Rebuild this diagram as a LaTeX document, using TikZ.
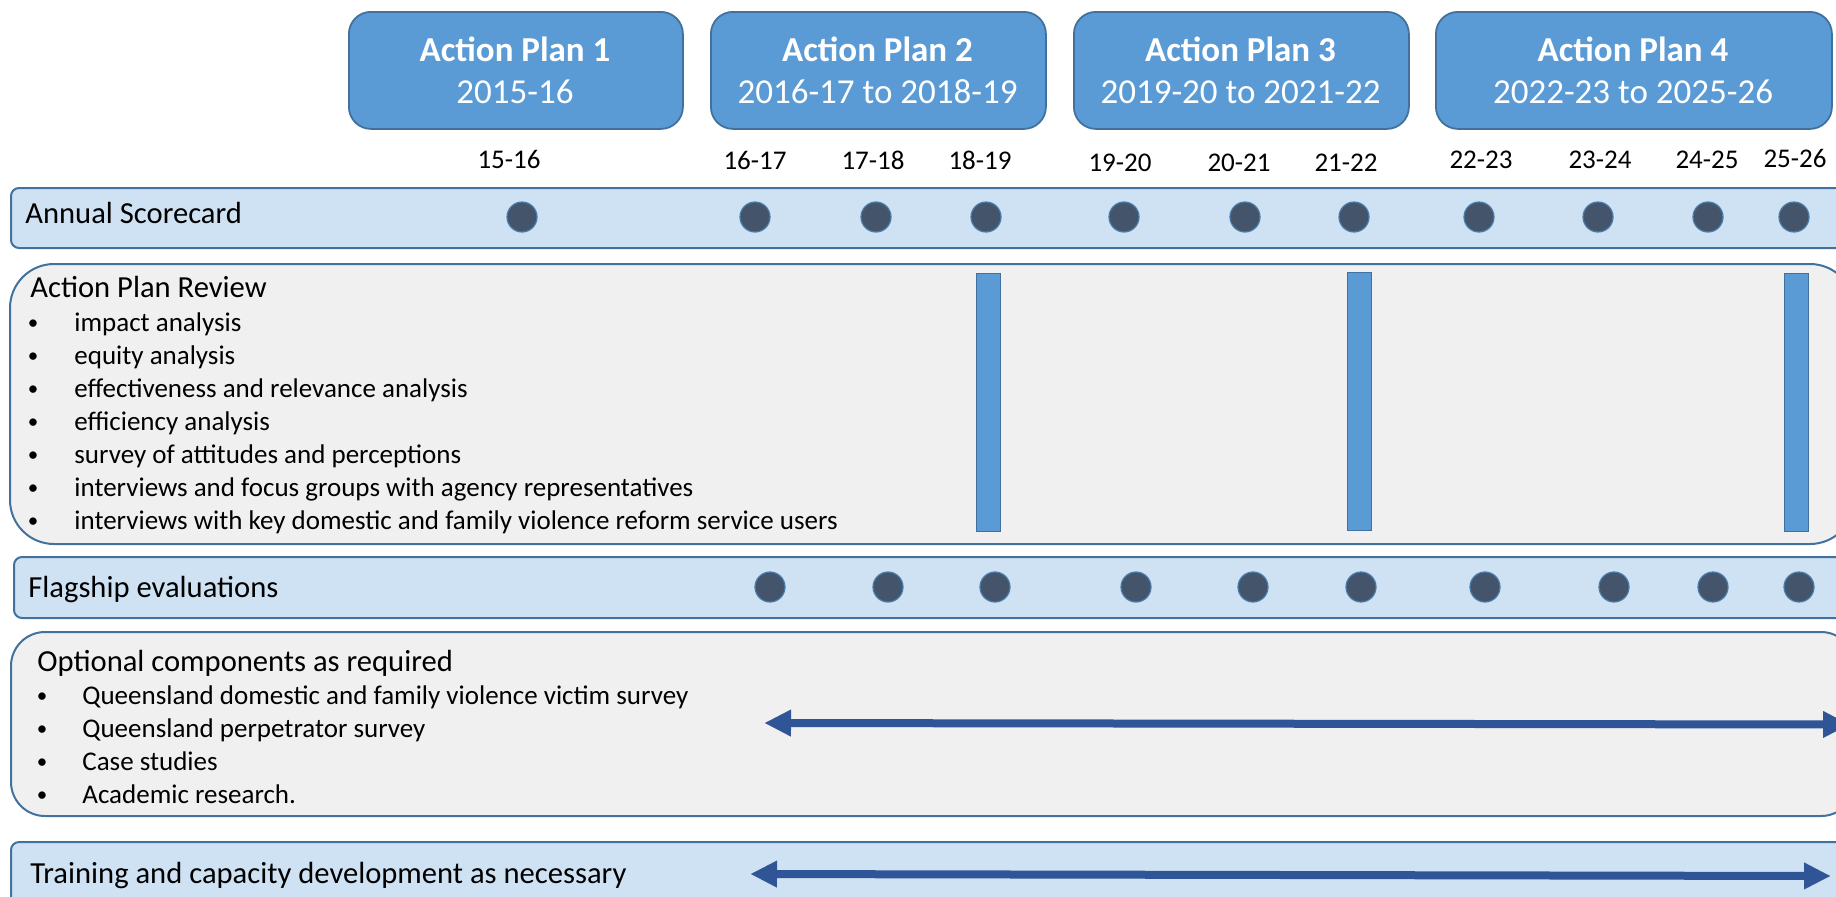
\documentclass[tikz,border=0pt]{standalone}
\usepackage{fontspec}
\setmainfont{Carlito}
\usetikzlibrary{arrows.meta}

\definecolor{hdrfill}{HTML}{5B9BD5}
\definecolor{edgeblue}{HTML}{41719C}
\definecolor{bandfill}{HTML}{CFE2F3}
\definecolor{panelfill}{HTML}{F0F0F0}
\definecolor{dotfill}{HTML}{44546A}
\definecolor{arrowblue}{HTML}{2F5597}

\begin{document}
\begin{tikzpicture}[x=0.5pt,y=-0.5pt,
  hdrbox/.style={draw=edgeblue, line width=0.9pt, fill=hdrfill, rounded corners=11pt,
    minimum height=58.5pt, inner sep=0pt, anchor=north west},
  hdrtitle/.style={anchor=base, inner sep=0pt, text=white,
    font=\fontsize{17.5}{21}\selectfont\bfseries},
  hdryears/.style={anchor=base, inner sep=0pt, text=white,
    font=\fontsize{17.5}{21}\selectfont},
  yearlbl/.style={anchor=base, inner sep=0pt, font=\fontsize{13.5}{16}\selectfont},
  band/.style={draw=edgeblue, line width=1pt, fill=bandfill, rounded corners=4pt,
    inner sep=0pt, anchor=north west, minimum width=921pt},
  panel/.style={draw=edgeblue, line width=1pt, fill=panelfill, rounded corners=22pt,
    inner sep=0pt, anchor=north west, minimum width=922pt},
  rowtitle/.style={anchor=base west, inner sep=0pt, font=\fontsize{15.3}{18}\selectfont},
  item/.style={anchor=base west, inner sep=0pt, font=\fontsize{13.5}{16}\selectfont},
  bul/.style={anchor=base, inner sep=0pt, font=\fontsize{10.5}{12}\selectfont},
  dot/.style={circle, fill=dotfill, draw=hdrfill!80!black, line width=0.6pt,
    minimum size=15pt, inner sep=0pt},
  reviewbar/.style={draw=edgeblue, line width=0.6pt, fill=hdrfill, inner sep=0pt,
    anchor=north west, minimum width=11.8pt, minimum height=129pt},
  bigarrow/.style={draw=arrowblue, line width=4pt,
    {Triangle[length=13pt,width=13.5pt,line width=0.1pt]}-{Triangle[length=13pt,width=13.5pt,line width=0.1pt]}}
]
\useasboundingbox (0,0) rectangle (1836,896);
\clip (0,0) rectangle (1836,896);

% ---- action plan headers ----
\node[hdrbox, minimum width=167pt] (ap1) at (348,11) {};
\node[hdrbox, minimum width=167.5pt] (ap2) at (710,11) {};
\node[hdrbox, minimum width=167.5pt] (ap3) at (1073,11) {};
\node[hdrbox, minimum width=198pt] (ap4) at (1435,11) {};
\node[hdrtitle] (ap1t) at (515,61) {Action Plan 1};
\node[hdryears] (ap1y) at (515,103) {2015-16};
\node[hdrtitle] (ap2t) at (877.5,61) {Action Plan 2};
\node[hdryears] (ap2y) at (877.5,103) {2016-17 to 2018-19};
\node[hdrtitle] (ap3t) at (1240.5,61) {Action Plan 3};
\node[hdryears] (ap3y) at (1240.5,103) {2019-20 to 2021-22};
\node[hdrtitle] (ap4t) at (1633,61) {Action Plan 4};
\node[hdryears] (ap4y) at (1633,103) {2022-23 to 2025-26};

% ---- financial years ----
\node[yearlbl] (y1) at (509,168) {15-16};
\node[yearlbl] (y2) at (755,169) {16-17};
\node[yearlbl] (y3) at (873,169) {17-18};
\node[yearlbl] (y4) at (980,169) {18-19};
\node[yearlbl] (y5) at (1120,171) {19-20};
\node[yearlbl] (y6) at (1239,171) {20-21};
\node[yearlbl] (y7) at (1346,171) {21-22};
\node[yearlbl] (y8) at (1481,168) {22-23};
\node[yearlbl] (y9) at (1600,168) {23-24};
\node[yearlbl] (y10) at (1707,168) {24-25};
\node[yearlbl] (y11) at (1795,167) {25-26};

% ---- annual scorecard ----
\node[band, minimum height=30pt] (score) at (10,187) {};
\node[rowtitle] (scoret) at (25,223) {Annual Scorecard};
\foreach \x [count=\i] in {522,755,876,986,1124,1245,1354,1479,1598,1708,1794}
  \node[dot] (sc\i) at (\x,217) {};

% ---- action plan review ----
\node[panel, rounded corners=22pt, minimum height=140pt] (review) at (9,263) {};
\node[rowtitle] (reviewt) at (30,297) {Action Plan Review};
\foreach \txt [count=\i] in {impact analysis, equity analysis,
    effectiveness and relevance analysis, efficiency analysis,
    survey of attitudes and perceptions,
    interviews and focus groups with agency representatives,
    interviews with key domestic and family violence reform service users}
{
  \node[bul] (rb\i) at (33,{331+33*(\i-1)}) {\raisebox{0.9pt}{\textbullet}};
  \node[item] (ri\i) at (74,{331+33*(\i-1)}) {\txt};
}
\node[reviewbar] (rev1) at (976,273) {};
\node[reviewbar] (rev2) at (1347,272) {};
\node[reviewbar] (rev3) at (1784,273) {};

% ---- flagship evaluations ----
\node[band, minimum height=30.5pt] (flag) at (13,556) {};
\node[rowtitle] (flagt) at (28,597) {Flagship evaluations};
\foreach \x [count=\i] in {770,888,995,1136,1253,1361,1485,1614,1713,1799}
  \node[dot] (fl\i) at (\x,587) {};

% ---- optional components ----
\node[panel, rounded corners=17pt, minimum height=92pt] (optional) at (10,631) {};
\node[rowtitle] (optionalt) at (37,671) {Optional components as required};
\foreach \txt [count=\i] in {Queensland domestic and family violence victim survey,
    Queensland perpetrator survey, Case studies, Academic research.}
{
  \node[bul] (ob\i) at (42,{704+33*(\i-1)}) {\raisebox{0.9pt}{\textbullet}};
  \node[item] (oi\i) at (82,{704+33*(\i-1)}) {\txt};
}
\coordinate (optL) at (765,723);
\coordinate (optR) at (1849,724.5);
\draw[bigarrow] (optL) -- (optR);

% ---- training ----
\node[band, minimum height=40pt] (train) at (10,841) {};
\node[rowtitle] (traint) at (30,883) {Training and capacity development as necessary};
\coordinate (trL) at (751,874);
\coordinate (trR) at (1830,876);
\draw[bigarrow] (trL) -- (trR);
\end{tikzpicture}
\end{document}
